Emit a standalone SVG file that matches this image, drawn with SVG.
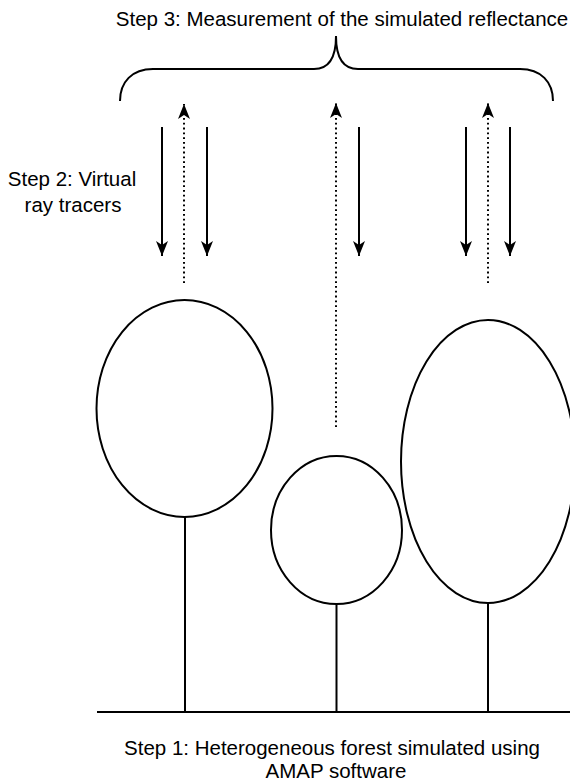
<svg xmlns="http://www.w3.org/2000/svg" width="570" height="784" viewBox="0 0 570 784">
<defs>
<style>
.t{font-family:"Liberation Sans",Arial,sans-serif;font-size:20.5px;fill:#000;text-anchor:middle}
.s{fill:none;stroke:#000;stroke-width:2}
.d{fill:none;stroke:#000;stroke-width:2;stroke-dasharray:1.8 3}
</style>
<marker id="ah" markerUnits="userSpaceOnUse" markerWidth="16" markerHeight="14" viewBox="-15 -7 16 14" refX="0" refY="0" orient="auto">
<path d="M0,0 L-15,-6 L-11,0 L-15,6 Z" fill="#000"/>
</marker>
</defs>
<rect width="570" height="784" fill="#fff"/>
<g id="label-step3"><text class="t" x="342" y="26">Step 3: Measurement of the simulated reflectance</text></g>
<g id="brace"><path class="s" d="M120,101 C120,82 132,69 153,69 L314,69 C328,69 336,58 336,36 C336,58 344,69 358,69 L520,69 C541,69 553,82 553,101"/></g>
<g id="label-step2"><text class="t" x="72" y="186">Step 2: Virtual</text><text class="t" x="73" y="212">ray tracers</text></g>
<g id="tree-left"><ellipse class="s" cx="184.5" cy="408.5" rx="88" ry="108.5"/><line class="s" x1="185" y1="517" x2="185" y2="712"/></g>
<g id="tree-middle"><ellipse class="s" cx="336.5" cy="530" rx="65.5" ry="74"/><line class="s" x1="336.5" y1="604" x2="336.5" y2="712"/></g>
<g id="tree-right"><ellipse class="s" cx="488" cy="461.5" rx="87" ry="141.5"/><line class="s" x1="488" y1="603" x2="488" y2="712"/></g>
<g id="ground"><line class="s" x1="97" y1="712" x2="570" y2="712"/></g>
<g id="connectors">
<line class="s" x1="162" y1="127" x2="162" y2="256" marker-end="url(#ah)"/>
<line class="s" x1="207" y1="127" x2="207" y2="256" marker-end="url(#ah)"/>
<line class="d" x1="184" y1="283" x2="184" y2="104" marker-end="url(#ah)"/>
<line class="s" x1="359" y1="127" x2="359" y2="256" marker-end="url(#ah)"/>
<line class="d" x1="336" y1="427" x2="336" y2="103" marker-end="url(#ah)"/>
<line class="s" x1="466" y1="127" x2="466" y2="256" marker-end="url(#ah)"/>
<line class="s" x1="510" y1="127" x2="510" y2="256" marker-end="url(#ah)"/>
<line class="d" x1="488" y1="283" x2="488" y2="103" marker-end="url(#ah)"/>
</g>
<g id="label-step1"><text class="t" x="332" y="755">Step 1: Heterogeneous forest simulated using</text><text class="t" x="336" y="778">AMAP software</text></g>
</svg>
